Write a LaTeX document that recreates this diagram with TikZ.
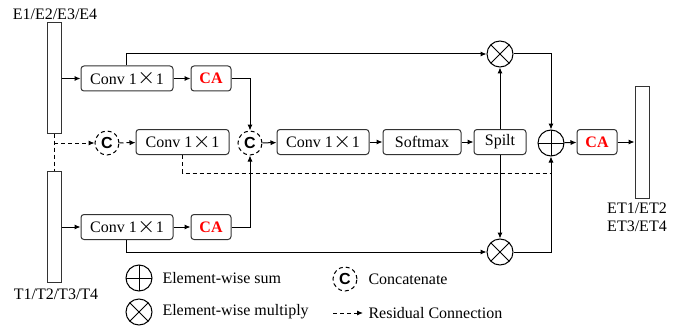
\documentclass[tikz,border=0pt]{standalone}
\usepackage{fontspec}
\setmainfont{Liberation Serif}
\setsansfont{Liberation Sans}
\usetikzlibrary{arrows.meta}

\newcommand{\bigtimes}{\hspace{0.3pt}\raisebox{0.2pt}{\scalebox{1.35}{$\times$}}\hspace{0.3pt}}

\tikzset{
  conv/.style={rectangle,draw=black!80,rounded corners=1.5pt,minimum height=12.5pt,inner sep=0pt},
  bar/.style={rectangle,draw=black!80,minimum width=7pt,inner sep=0pt},
  resline/.style={dash pattern=on 2pt off 1.5pt},
  catop/.style={circle,draw,resline,minimum size=12pt,inner sep=0pt,font=\sffamily\bfseries\fontsize{8}{9}\selectfont},
  sumop/.style={circle,draw,minimum size=13pt,inner sep=0pt,
    path picture={\draw (path picture bounding box.north) -- (path picture bounding box.south)
      (path picture bounding box.west) -- (path picture bounding box.east);}},
  mulop/.style={circle,draw,minimum size=13pt,inner sep=0pt,
    path picture={\draw (path picture bounding box.north west) -- (path picture bounding box.south east)
      (path picture bounding box.south west) -- (path picture bounding box.north east);}},
  catxt/.style={text=red,font=\bfseries\fontsize{8}{9}\selectfont},
  legtxt/.style={anchor=west,inner sep=0pt,font=\rmfamily\fontsize{8}{9.5}\selectfont},
}

\begin{document}
\begin{tikzpicture}[>={Latex[length=3pt,width=2.6pt]},x=0.5pt,y=-0.5pt,line width=0.5pt,
  font=\rmfamily\fontsize{8}{9.5}\selectfont]
\useasboundingbox (0,0) rectangle (695,326);

% input bars
\node[bar,minimum height=55pt] (ebar) at (54,78) {};
\node (etxt) at (55,14) {E1/E2/E3/E4};
\node[bar,minimum height=55.5pt] (tbar) at (54,226.5) {};
\node (ttxt) at (56,294) {T1/T2/T3/T4};

% top and bottom branches
\node[conv,minimum width=46pt] (conv1) at (127,78.5) {Conv 1\bigtimes1};
\node[conv,minimum width=20pt,catxt] (ca1) at (211,78.5) {CA};
\node[conv,minimum width=46pt] (conv4) at (127,227) {Conv 1\bigtimes1};
\node[conv,minimum width=20pt,catxt] (ca2) at (211,227) {CA};

% middle row
\node[catop] (cat1) at (107,143) {C};
\node[conv,minimum width=46.5pt] (conv2) at (182.5,142) {Conv 1\bigtimes1};
\node[catop] (cat2) at (250,143) {C};
\node[conv,minimum width=46pt] (conv3) at (323,142) {Conv 1\bigtimes1};
\node[conv,minimum width=39pt] (soft) at (422,142) {Softmax};
\node[conv,minimum width=26pt] (split) at (500,142) {Spilt};

\node[mulop] (mul1) at (500,54) {};
\node[mulop] (mul2) at (500,252) {};
\node[sumop] (sum) at (551,143) {};
\node[conv,minimum width=20pt,catxt] (ca3) at (597,142) {CA};
\node[bar,minimum height=55.5pt] (obar) at (642,142.5) {};
\node[align=center] (otxt) at (637,217.5) {ET1/ET2\\[-0.5pt]ET3/ET4};

\coordinate (res) at (551,173);

% connections
\draw[->] (conv1.west -| ebar.east) -- (conv1.west);
\draw[->] (conv1) -- (ca1);
\draw[->] ([xshift=-0.5pt]conv1.north) |- (mul1.west);
\draw[->] (ca1.east) -| (cat2.north);

\draw[->] (conv4.west -| tbar.east) -- (conv4.west);
\draw[->] (conv4) -- (ca2);
\draw[->] ([xshift=-0.5pt]conv4.south) |- (mul2.west);
\draw[->] (ca2.east) -| (cat2.south);

\draw[resline] (ebar.south) -- (tbar.north);
\draw[resline,->] (cat1.west -| ebar.south) -- (cat1.west);
\draw[resline,->] (cat1) -- (conv2);
\draw[resline] (conv2.south) |- (res);

\draw[->] (cat2) -- (conv3);
\draw[->] (conv3) -- (soft);
\draw[->] (soft) -- (split);
\draw[->] (split) -- (mul1);
\draw[->] (split) -- (mul2);
\draw[->] (mul1.east) -| (sum.north);
\draw[->] (mul2.east) -| (sum.south);
\draw[->] (sum) -- (ca3);
\draw[->] (ca3.east) -- (ca3.east -| obar.west);

% legend
\node[sumop] (lsum) at (139,278) {};
\node[legtxt] (lsumtxt) at (162,278) {Element-wise sum};
\node[mulop] (lmul) at (139,312) {};
\node[legtxt] (lmultxt) at (162,312) {Element-wise multiply};
\node[catop] (lcat) at (345,279) {C};
\node[legtxt] (lcattxt) at (368,279) {Concatenate};
\coordinate (lres1) at (333,313);
\coordinate (lres2) at (363,313);
\draw[resline,->] (lres1) -- (lres2);
\node[legtxt] (lrestxt) at (368,313) {Residual Connection};
\end{tikzpicture}
\end{document}
